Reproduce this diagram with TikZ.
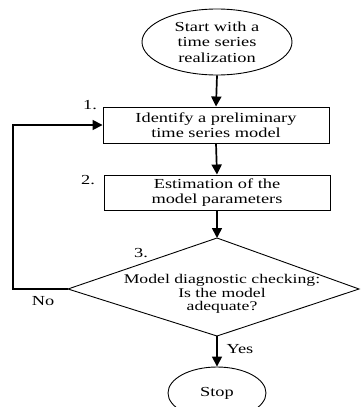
\documentclass[tikz,border=0pt]{standalone}
\usepackage{fontspec}
\setmainfont[FakeStretch=1.33]{Liberation Serif}
\usetikzlibrary{shapes.geometric,arrows.meta}
\begin{document}
\begin{tikzpicture}[x=1pt,y=-1pt,
  every node/.style={font=\fontsize{13.8}{15.5}\selectfont},
  term/.style={draw,ellipse,line width=0.9pt,inner sep=0pt,align=center},
  stepbox/.style={draw,rectangle,line width=0.9pt,inner sep=0pt,align=center,minimum width=226pt},
  flow/.style={line width=1.7pt,-{Triangle[length=10pt,width=10pt]}},
  lbl/.style={inner sep=0pt}]
\useasboundingbox (0,0) rectangle (360,407);
\node[term,minimum width=150pt,minimum height=66pt] (start) at (217,42) {Start with a\\time series\\realization};
\node[stepbox,minimum height=36pt] (b1) at (216,125) {Identify a preliminary\\time series model};
\node[stepbox,minimum height=35pt] (b2) at (217,192.5) {Estimation of the\\model parameters};
\coordinate (dt) at (217,238);
\coordinate (dr) at (359,289);
\coordinate (db) at (217,336);
\coordinate (dl) at (68,289);
\draw[line width=0.9pt,line join=miter] (dt) -- (dr) -- (db) -- (dl) -- cycle;
\node[align=center,font=\fontsize{13.3}{13.5}\selectfont] (dq) at (222,294) {Model diagnostic checking:\\Is the model\\adequate?};
\node[term,minimum width=98pt,minimum height=52pt] (stop) at (217,393) {Stop};
\draw[flow] (start.south) -- (b1.north);
\draw[flow] (b1.south) -- (b2.north);
\draw[flow] (b2.south) -- (dt);
\draw[flow] (db) -- (stop.north);
\draw[flow] (dl) -- ++(-55,0) |- (b1.west);
\node[lbl] (n1) at (90,105) {1.};
\node[lbl] (n2) at (88,180) {2.};
\node[lbl] (n3) at (141,253) {3.};
\node[lbl] (no) at (43,301) {No};
\node[lbl] (yes) at (240,349) {Yes};
\end{tikzpicture}
\end{document}
